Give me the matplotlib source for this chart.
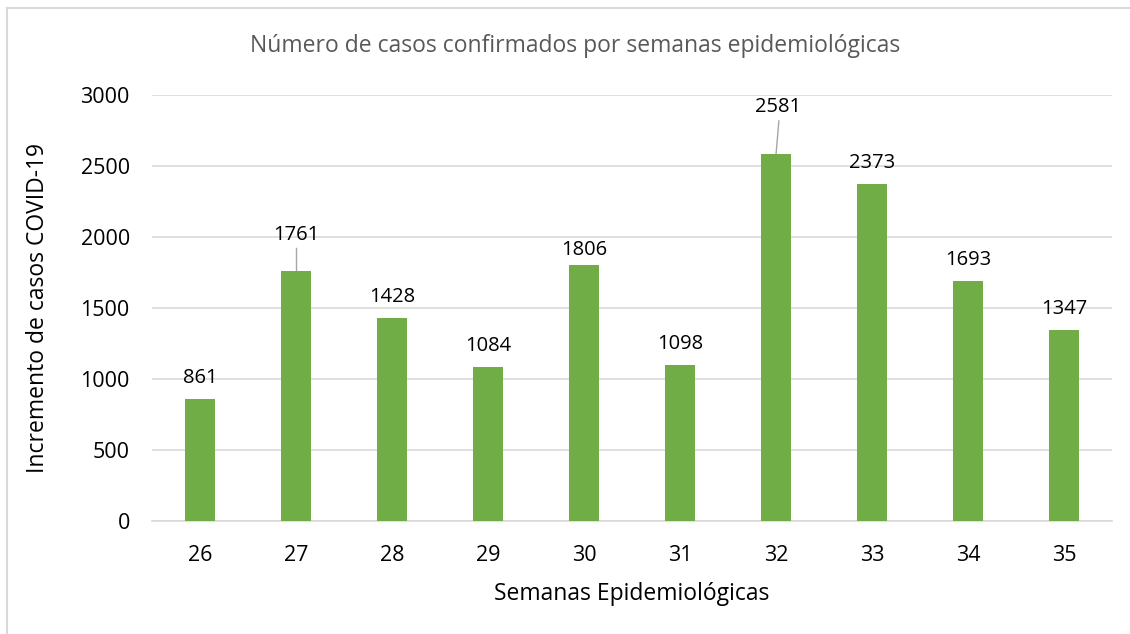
import matplotlib.pyplot as plt
from matplotlib.lines import Line2D

semanas = ['26', '27', '28', '29', '30', '31', '32', '33', '34', '35']
casos = [861, 1761, 1428, 1084, 1806, 1098, 2581, 2373, 1693, 1347]

plt.rcParams['font.family'] = ['Open Sans', 'DejaVu Sans']

fig = plt.figure(figsize=(11.3, 6.34), dpi=100)
ax = fig.add_axes([152 / 1130, 1 - 521 / 634, 960 / 1130, 426 / 634])

x = list(range(len(semanas)))
ax.bar(x, casos, width=0.31, color='#70AD47', zorder=3)

# label baselines: most sit just above the bar, two are pulled up with a leader
for i, v in enumerate(casos):
    if i == 1:
        ax.plot([i, i], [1923, v], color='#A6A6A6', lw=1, zorder=2)
        ax.text(i, 1979, str(v), ha='center', va='baseline', fontsize=14.5)
    elif i == 6:
        ax.plot([i + 0.03, i], [2817, v], color='#A6A6A6', lw=1, zorder=2)
        ax.text(i + 0.02, 2877, str(v), ha='center', va='baseline', fontsize=14.5)
    elif i == 4:
        ax.text(i, v + 70, str(v), ha='center', va='baseline', fontsize=14.5)
    else:
        ax.text(i, v + 113, str(v), ha='center', va='baseline', fontsize=14.5)

ax.set_xlim(-0.5, len(semanas) - 0.5)
ax.set_ylim(0, 3000)
ax.set_yticks(range(0, 3001, 500))
ax.set_xticks(x)
ax.set_xticklabels(semanas)
ax.yaxis.grid(True, color='#D9D9D9', lw=1.2, zorder=0)
for s in ['top', 'right', 'left']:
    ax.spines[s].set_visible(False)
ax.spines['bottom'].set_color('#D9D9D9')
ax.spines['bottom'].set_linewidth(1.2)
ax.tick_params(axis='both', length=0, labelsize=15.5, colors='#000000')
ax.tick_params(axis='x', pad=17)
ax.tick_params(axis='y', pad=16)

ax.set_xlabel('Semanas Epidemiológicas', fontsize=16.5, labelpad=12)
ax.set_ylabel('Incremento de casos COVID-19', fontsize=16.5, labelpad=22)
fig.text(575 / 1130, 1 - 46 / 634, 'Número de casos confirmados por semanas epidemiológicas',
         ha='center', va='center', fontsize=16.5, color='#595959')

# chart frame (only left and top edges visible)
fig.add_artist(Line2D([7 / 1130, 7 / 1130], [0, 1 - 8 / 634], color='#D9D9D9',
                      lw=1.5, transform=fig.transFigure))
fig.add_artist(Line2D([7 / 1130, 1], [1 - 8 / 634, 1 - 8 / 634], color='#D9D9D9',
                      lw=1.5, transform=fig.transFigure))

fig.savefig('out.png', dpi=100)
